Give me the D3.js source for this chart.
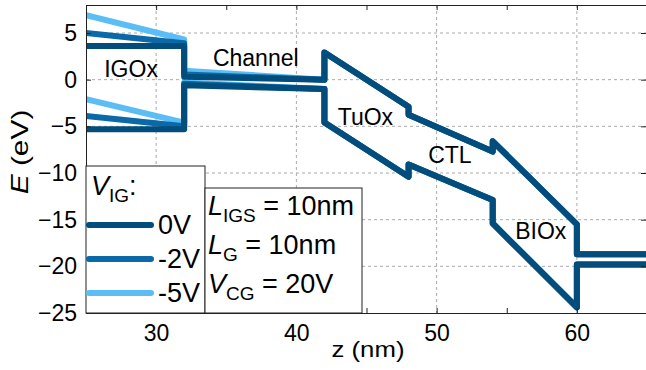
<!DOCTYPE html>
<html>
<head>
<meta charset="utf-8">
<script src="https://cdn.jsdelivr.net/npm/d3@7"></script>
<style>
  body { margin: 0; background: #fff; }
  text { font-family: "Liberation Sans", Arial, sans-serif; fill: #000; }
</style>
</head>
<body>
<div id="chart"></div>
<script>
// Band edges (z in nm, E in eV). Shared part from the tunnel oxide on.
var cbTail = [[42, 0.0], [42, 2.9], [48, -2.9], [48, -3.75], [54, -7.7], [54, -6.6], [60, -15.5], [60, -18.7], [65, -18.7]];
var vbTail = [[42, -1.0], [42, -4.6], [48, -10.4], [48, -9.1], [54, -12.9], [54, -15.4], [60, -24.4], [60, -19.8], [65, -19.8]];

// IGOx + channel part, per inner-gate voltage
var cbHead0 = [[25, 3.6], [32, 3.6], [32, 0.3]];
var vbHead0 = [[25, -5.3], [32, -5.3], [32, -0.6]];
var cbHead2 = [[25, 5.0], [32, 3.9], [32, 0.55]];
var vbHead2 = [[25, -3.9], [32, -5.0], [32, -0.45]];
var cbHead5 = [[25, 6.9], [32, 4.3], [32, 0.95]];
var vbHead5 = [[25, -2.1], [32, -4.6], [32, -0.3]];

var voltages = ["0V", "-2V", "-5V"];
var colors = ["#024d7b", "#0a69a6", "#5bbdf5"];

var xTicks = [25, 30, 35, 40, 45, 50, 55, 60, 65];
var xGrid = [30, 40, 50, 60];
var yTicks = [-25, -20, -15, -10, -5, 0, 5];

var regions = [
  {name: "IGOx", z: 26.3, e: 0.3},
  {name: "Channel", z: 34.05, e: 1.5},
  {name: "TuOx", z: 42.95, e: -4.9},
  {name: "CTL", z: 49.4, e: -8.9},
  {name: "BIOx", z: 55.6, e: -17.1}
];

var W = 646, H = 370;
var svg = d3.select("#chart").append("svg")
    .attr("width", W)
    .attr("height", H);

var x = d3.scaleLinear().domain([25, 65]).range([86, 647]);
var y = d3.scaleLinear().domain([-25, 8]).range([313, 5]);

svg.append("clipPath").attr("id", "plot")
  .append("rect")
    .attr("x", x(25)).attr("y", y(8))
    .attr("width", x(65) - x(25)).attr("height", y(-25) - y(8));

// grid
var grid = svg.append("g")
    .attr("stroke", "#aaa")
    .attr("stroke-width", 1)
    .attr("stroke-dasharray", "3,3");
grid.selectAll(".gx").data(xGrid).enter().append("line")
    .attr("x1", d => x(d)).attr("x2", d => x(d))
    .attr("y1", y(8)).attr("y2", y(-25));
grid.selectAll(".gy").data(yTicks.filter(d => d > -25)).enter().append("line")
    .attr("x1", x(25)).attr("x2", x(65))
    .attr("y1", d => y(d)).attr("y2", d => y(d));

// band lines
var line = d3.line().x(d => x(d[0])).y(d => y(d[1]));
var curves = [
  {v: 2, cb: cbHead5, vb: vbHead5},
  {v: 1, cb: cbHead2, vb: vbHead2},
  {v: 0, cb: cbHead0, vb: vbHead0}
];
var lines = svg.append("g").attr("clip-path", "url(#plot)");
curves.forEach(function(c) {
  [c.cb.concat(cbTail), c.vb.concat(vbTail)].forEach(function(pts) {
    lines.append("path")
        .attr("d", line(pts))
        .attr("fill", "none")
        .attr("stroke", colors[c.v])
        .attr("stroke-width", 6)
        .attr("stroke-linejoin", "round")
        .attr("stroke-linecap", "butt");
  });
});

// region labels
svg.selectAll(".region").data(regions).enter().append("text")
    .attr("x", d => x(d.z))
    .attr("y", d => y(d.e))
    .attr("font-size", 23)
    .text(d => d.name);

// axes
svg.append("g")
    .attr("transform", "translate(0," + y(-25) + ")")
    .call(d3.axisBottom(x).tickValues(xTicks).tickSizeInner(-5).tickSizeOuter(0).tickPadding(12)
      .tickFormat(d => d % 10 === 0 ? d : ""));
svg.append("g")
    .attr("transform", "translate(0," + y(8) + ")")
    .call(d3.axisTop(x).tickValues(xTicks).tickSizeInner(-5).tickSizeOuter(0).tickFormat(""));
svg.append("g")
    .attr("transform", "translate(" + x(25) + ",0)")
    .call(d3.axisLeft(y).tickValues(yTicks).tickSizeInner(-5).tickSizeOuter(0).tickPadding(9));
svg.append("g")
    .attr("transform", "translate(" + (x(65) - 1) + ",0)")
    .call(d3.axisRight(y).tickValues(yTicks).tickSizeInner(-5).tickSizeOuter(0).tickFormat(""));

svg.selectAll(".tick text")
    .attr("font-size", 23)
    .attr("font-family", "Liberation Sans, Arial, sans-serif")
    .attr("fill", "#000");
svg.selectAll(".domain, .tick line").attr("stroke", "#222");

// axis titles
svg.append("text")
    .attr("transform", "translate(368,357) scale(1.12,1)")
    .attr("text-anchor", "middle")
    .attr("font-size", 23)
    .text("z (nm)");
var yt = svg.append("text")
    .attr("transform", "translate(28,152) rotate(-90) scale(1.3,1)")
    .attr("text-anchor", "middle")
    .attr("font-size", 23);
yt.append("tspan").attr("font-style", "italic").text("E");
yt.append("tspan").text(" (eV)");

// legend box
var leg = svg.append("g");
leg.append("rect")
    .attr("x", x(25)).attr("y", 166)
    .attr("width", 119).attr("height", y(-25) - 166)
    .attr("fill", "#fff").attr("stroke", "#222").attr("stroke-width", 1);
var lt = leg.append("text").attr("x", 91).attr("y", 195).attr("font-size", 27);
lt.append("tspan").attr("font-style", "italic").text("V");
lt.append("tspan").attr("font-size", 19).attr("dy", 7).text("IG");
lt.append("tspan").attr("dy", -7).text(":");
voltages.forEach(function(v, i) {
  var yy = 225 + i * 34;
  leg.append("line")
      .attr("x1", 89).attr("x2", 151)
      .attr("y1", yy).attr("y2", yy)
      .attr("stroke", colors[i]).attr("stroke-width", 6)
      .attr("stroke-linecap", "round");
  leg.append("text")
      .attr("x", 158).attr("y", yy + 9)
      .attr("font-size", 27)
      .text(v);
});

// parameter box
var par = svg.append("g");
par.append("rect")
    .attr("x", 205).attr("y", 188)
    .attr("width", 157).attr("height", y(-25) - 188)
    .attr("fill", "#fff").attr("stroke", "#222").attr("stroke-width", 1);
var params = [["L", "IGS", " = 10nm"], ["L", "G", " = 10nm"], ["V", "CG", " = 20V"]];
params.forEach(function(p, i) {
  var t = par.append("text").attr("x", 208).attr("y", 215 + i * 39).attr("font-size", 27);
  t.append("tspan").attr("font-style", "italic").text(p[0]);
  t.append("tspan").attr("font-size", 19).attr("dy", 7).text(p[1]);
  t.append("tspan").attr("dy", -7).text(p[2]);
});
</script>
</body>
</html>
